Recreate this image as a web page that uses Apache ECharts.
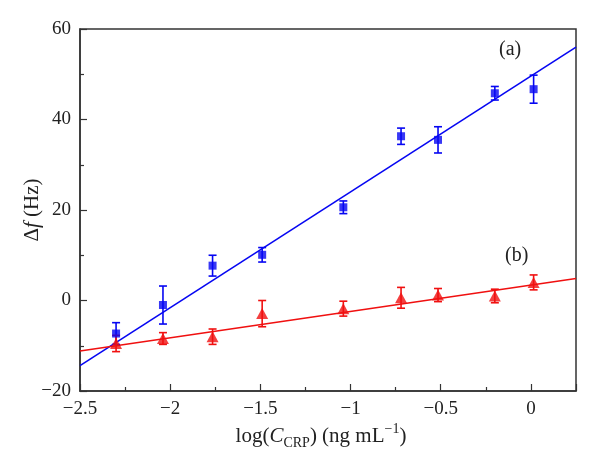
<!DOCTYPE html>
<html><head><meta charset="utf-8">
<script src="https://cdn.jsdelivr.net/npm/echarts@6/dist/echarts.min.js"></script>
<style>html,body{margin:0;padding:0;background:#fff}#c{width:600px;height:470px}</style>
</head><body><div id="c"></div>
<script>
const xVals = [-2.30, -2.04, -1.765, -1.49, -1.04, -0.72, -0.515, -0.20, 0.015];
const seriesA = [-7.3, -1.0, 7.7, 10.1, 20.6, 36.3, 35.5, 45.8, 46.7];
const errA = [2.4, 4.2, 2.3, 1.6, 1.4, 1.8, 2.9, 1.5, 3.1];
const seriesB = [-9.5, -8.4, -8.0, -2.9, -1.8, 0.6, 1.2, 1.0, 4.0];
const errB = [1.8, 1.3, 1.7, 2.9, 1.65, 2.3, 1.45, 1.5, 1.65];
const fitA = [[-2.5, -14.4], [0.25, 56.0]];
const fitB = [[-2.5, -11.15], [0.25, 4.87]];
const xTicks = [-2.5, -2, -1.5, -1, -0.5, 0];
const yTicks = [-20, 0, 20, 40, 60];

const BLUE = '#0606f2', RED = '#f01010';
const FONT = '"Liberation Serif", "DejaVu Serif", serif';
const fmt = v => (v < 0 ? '\u2212' + Math.abs(v) : String(v));

function errData(ys, es) { return xVals.map((x, i) => [x, ys[i] - es[i], ys[i] + es[i]]); }
function errRender(color) {
  return function (params, api) {
    const x = api.value(0);
    const lo = api.coord([x, api.value(1)]);
    const hi = api.coord([x, api.value(2)]);
    const w = 4;
    const st = { stroke: color, lineWidth: 1.6 };
    return { type: 'group', children: [
      { type: 'line', shape: { x1: lo[0], y1: lo[1], x2: hi[0], y2: hi[1] }, style: st },
      { type: 'line', shape: { x1: lo[0] - w, y1: lo[1], x2: lo[0] + w, y2: lo[1] }, style: st },
      { type: 'line', shape: { x1: hi[0] - w, y1: hi[1], x2: hi[0] + w, y2: hi[1] }, style: st }
    ] };
  };
}

const chart = echarts.init(document.getElementById('c'), null, { renderer: 'canvas' });
chart.setOption({
  backgroundColor: '#fff',
  animation: false,
  grid: { left: 80, right: 24, top: 29, bottom: 79, show: true, borderColor: '#333', borderWidth: 1.5, backgroundColor: 'transparent' },
  xAxis: {
    type: 'value', min: -2.5, max: 0.25, interval: 0.5,
    axisLine: { onZero: false, lineStyle: { color: '#333', width: 1.5 } },
    axisTick: { inside: true, length: 7, lineStyle: { color: '#333', width: 1.2 } },
    minorTick: { show: true, splitNumber: 2, length: 4, lineStyle: { color: '#333', width: 1.2 } },
    splitLine: { show: false },
    axisLabel: { color: '#222', fontFamily: FONT, fontSize: 19, margin: 9,
      formatter: v => (xTicks.indexOf(v) >= 0 ? fmt(v) : '') },
    name: '{m|log(}{i|C}{s|CRP}{m|) (ng mL}{p|\u22121}{m|)}',
    nameLocation: 'middle', nameGap: 31, nameMoveOverlap: false,
    nameTextStyle: { padding: [0, 14, 0, 0], rich: {
      m: { fontFamily: FONT, fontSize: 21, color: '#222', lineHeight: 28 },
      i: { fontFamily: FONT, fontSize: 21, color: '#222', fontStyle: 'italic', lineHeight: 28 },
      s: { fontFamily: FONT, fontSize: 14, color: '#222', lineHeight: 15, verticalAlign: 'bottom' },
      p: { fontFamily: FONT, fontSize: 14, color: '#222', lineHeight: 13, verticalAlign: 'top' }
    } }
  },
  yAxis: {
    type: 'value', min: -20, max: 60, interval: 20,
    axisLine: { onZero: false, lineStyle: { color: '#333', width: 1.5 } },
    axisTick: { inside: true, length: 7, lineStyle: { color: '#333', width: 1.2 } },
    minorTick: { show: true, splitNumber: 2, length: 4, lineStyle: { color: '#333', width: 1.2 } },
    splitLine: { show: false },
    axisLabel: { color: '#222', fontFamily: FONT, fontSize: 19, margin: 9,
      formatter: v => (yTicks.indexOf(v) >= 0 ? fmt(v) : '') },
    name: '{m|\u0394}{i|f}{m| (Hz)}',
    nameLocation: 'middle', nameGap: 37, nameRotate: 90, nameMoveOverlap: false,
    nameTextStyle: { rich: {
      m: { fontFamily: FONT, fontSize: 21, color: '#222' },
      i: { fontFamily: FONT, fontSize: 21, color: '#222', fontStyle: 'italic' }
    } }
  },
  series: [
    { type: 'line', data: fitA, showSymbol: false, lineStyle: { color: BLUE, width: 1.6 }, z: 2, silent: true },
    { type: 'line', data: fitB, showSymbol: false, lineStyle: { color: RED, width: 1.6 }, z: 2, silent: true },
    { type: 'custom', data: errData(seriesA, errA), renderItem: errRender(BLUE), z: 3 },
    { type: 'custom', data: errData(seriesB, errB), renderItem: errRender(RED), z: 3 },
    { type: 'scatter', data: xVals.map((x, i) => [x, seriesA[i]]), symbol: 'rect', symbolSize: 8, itemStyle: { color: BLUE }, z: 4 },
    { type: 'scatter', data: xVals.map((x, i) => [x, seriesB[i]]), symbol: 'triangle', symbolSize: [12, 11], itemStyle: { color: RED }, z: 4 }
  ],
  graphic: [
    { type: 'text', left: 499, top: 40, style: { text: '(a)', font: '20px ' + FONT, fill: '#222' } },
    { type: 'text', left: 505, top: 246, style: { text: '(b)', font: '20px ' + FONT, fill: '#222' } }
  ]
});
</script></body></html>
